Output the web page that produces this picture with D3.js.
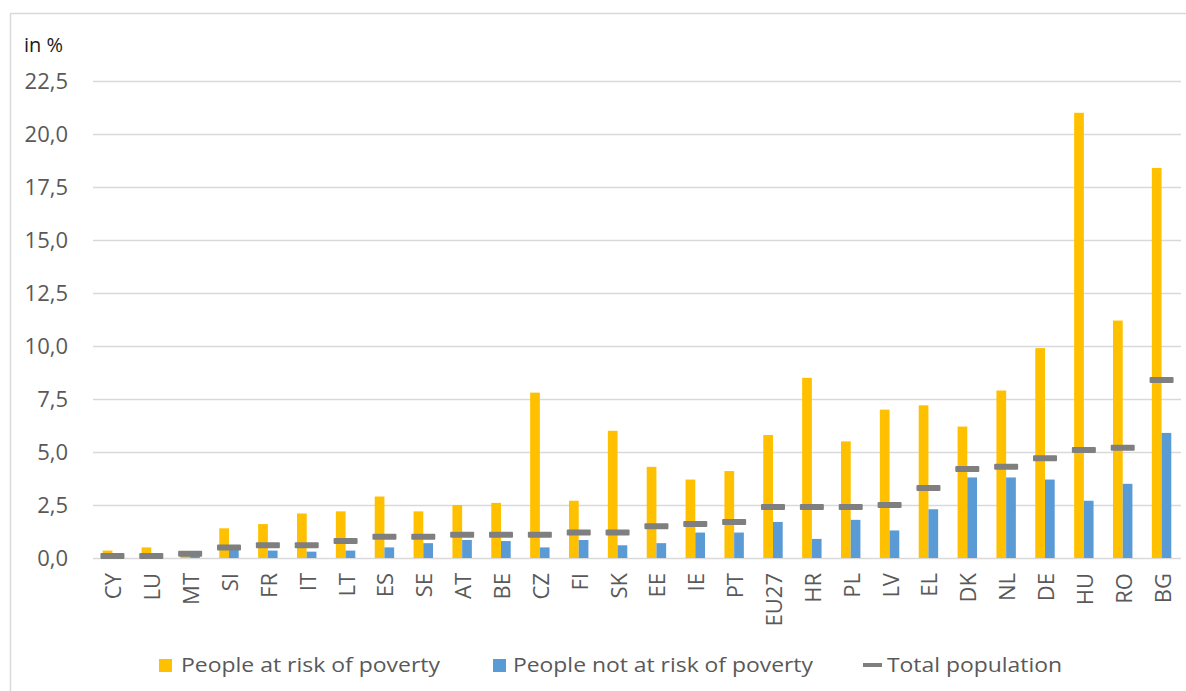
<!DOCTYPE html>
<html>
<head>
<meta charset="utf-8">
<script src="https://cdn.jsdelivr.net/npm/d3@7"></script>
<style>
  html, body { margin: 0; padding: 0; background: #fff; }
  svg { display: block; font-family: "Open Sans", "Noto Sans", sans-serif; }
</style>
</head>
<body>
<svg id="chart" width="1186" height="691"></svg>
<script>
const categories = ["CY","LU","MT","SI","FR","IT","LT","ES","SE","AT","BE","CZ","FI","SK","EE","IE","PT","EU27","HR","PL","LV","EL","DK","NL","DE","HU","RO","BG"];
const atRisk    = [0.35,0.5,0.15,1.4,1.6,2.1,2.2,2.9,2.2,2.5,2.6,7.8,2.7,6.0,4.3,3.7,4.1,5.8,8.5,5.5,7.0,7.2,6.2,7.9,9.9,21.0,11.2,18.4];
const notAtRisk = [0.1,0.05,0.1,0.45,0.35,0.3,0.35,0.5,0.7,0.85,0.8,0.5,0.85,0.6,0.7,1.2,1.2,1.7,0.9,1.8,1.3,2.3,3.8,3.8,3.7,2.7,3.5,5.9];
const totalPop  = [0.1,0.1,0.2,0.5,0.6,0.6,0.8,1.0,1.0,1.1,1.1,1.1,1.2,1.2,1.5,1.6,1.7,2.4,2.4,2.4,2.5,3.3,4.2,4.3,4.7,5.1,5.2,8.4];
const yTicks = [0,2.5,5,7.5,10,12.5,15,17.5,20,22.5];
const seriesNames = ["People at risk of poverty","People not at risk of poverty","Total population"];
const unitLabel = "in %";

const svg = d3.select("#chart");
const W = 1186, H = 691;
const plot = {left: 93, right: 1181, top: 81, bottom: 558};
const colors = {risk: "#FFC000", notRisk: "#5B9BD5", total: "#7F7F7F", grid: "#D9D9D9", text: "#595959"};

// chart border
svg.append("rect").attr("x", 10.5).attr("y", 13.5).attr("width", 1190).attr("height", 700)
  .attr("fill", "none").attr("stroke", colors.grid).attr("stroke-width", 1.5);

const x = d3.scaleBand().domain(categories).range([plot.left, plot.right]).paddingInner(0).paddingOuter(0);
const xs = d3.scaleBand().domain(["risk","notRisk"]).range([0, x.bandwidth()]).paddingInner(0).paddingOuter(1);
const y = d3.scaleLinear().domain([0, 22.5]).range([plot.bottom, plot.top]);

const loc = d3.formatLocale({decimal: ",", thousands: ".", grouping: [3], currency: ["", "€"]});
const fmt = loc.format(".1f");

// gridlines + y labels
const yAxis = d3.axisLeft(y).tickValues(yTicks).tickFormat(fmt)
  .tickSize(-(plot.right - plot.left)).tickPadding(25);
const gy = svg.append("g").attr("transform", `translate(${plot.left},0)`).call(yAxis);
gy.select(".domain").remove();
gy.selectAll(".tick line").attr("stroke", colors.grid).attr("stroke-width", 1.5);
gy.selectAll(".tick text").attr("fill", colors.text).attr("font-size", 22)
  .attr("font-family", "Open Sans, sans-serif").attr("dy", "0.35em");

// x labels
const xAxis = d3.axisBottom(x).tickSize(0).tickPadding(0);
const gx = svg.append("g").attr("transform", `translate(0,${plot.bottom})`).call(xAxis);
gx.select(".domain").remove();
gx.selectAll(".tick text")
  .attr("fill", colors.text).attr("font-size", 22).attr("font-family", "Open Sans, sans-serif")
  .attr("text-anchor", "end").attr("dy", null)
  .attr("transform", "translate(0,15) rotate(-90)")
  .attr("x", 0).attr("y", 0).attr("dominant-baseline", "central");

// bars
const rows = categories.map((c, i) => ({c, risk: atRisk[i], notRisk: notAtRisk[i], total: totalPop[i]}));
svg.append("g").selectAll("rect").data(rows).join("rect")
  .attr("x", d => x(d.c) + xs("risk")).attr("width", xs.bandwidth())
  .attr("y", d => y(d.risk)).attr("height", d => y(0) - y(d.risk)).attr("fill", colors.risk);
svg.append("g").selectAll("rect").data(rows).join("rect")
  .attr("x", d => x(d.c) + xs("notRisk")).attr("width", xs.bandwidth())
  .attr("y", d => y(d.notRisk)).attr("height", d => y(0) - y(d.notRisk)).attr("fill", colors.notRisk);
// total markers
const mw = 24, mh = 6;
svg.append("g").selectAll("rect").data(rows).join("rect")
  .attr("x", d => x(d.c) + x.bandwidth() / 2 - mw / 2).attr("width", mw)
  .attr("y", d => y(d.total) - mh / 2).attr("height", mh).attr("rx", 1)
  .attr("fill", colors.total);

// unit label
svg.append("text").attr("x", 24).attr("y", 52).attr("font-size", 20).attr("fill", "#1a1a1a").text(unitLabel);

// legend
const lg = svg.append("g").attr("font-size", 20).attr("fill", colors.text);
const legendItems = [
  {name: seriesNames[0], type: "sq", color: colors.risk, mx: 159, tx: 181, tw: 259},
  {name: seriesNames[1], type: "sq", color: colors.notRisk, mx: 493, tx: 513, tw: 300},
  {name: seriesNames[2], type: "dash", color: colors.total, mx: 863, tx: 887, tw: 175}
];
legendItems.forEach(it => {
  if (it.type === "sq") {
    lg.append("rect").attr("x", it.mx).attr("y", 659).attr("width", 13).attr("height", 13).attr("fill", it.color);
  } else {
    lg.append("rect").attr("x", it.mx).attr("y", 663).attr("width", 19).attr("height", 4).attr("fill", it.color);
  }
  lg.append("text").attr("x", it.tx).attr("y", 665).attr("dy", "0.35em")
    .attr("textLength", it.tw).attr("lengthAdjust", "spacingAndGlyphs").text(it.name);
});
</script>
</body>
</html>
